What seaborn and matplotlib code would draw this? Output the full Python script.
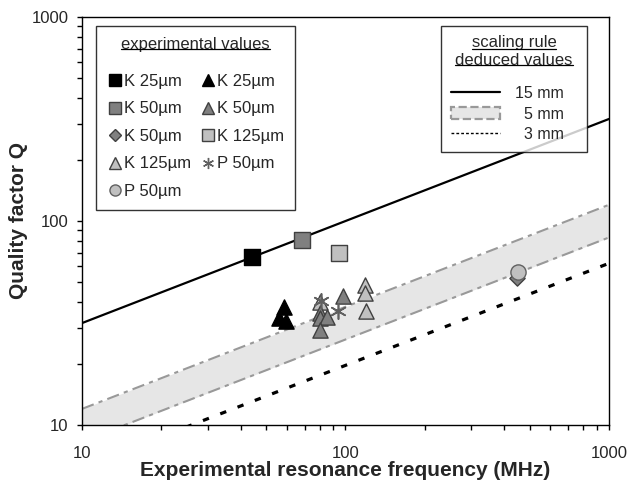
import numpy as np
import pandas as pd
import matplotlib
matplotlib.use("Agg")
import matplotlib.pyplot as plt
import seaborn as sns
from matplotlib.lines import Line2D
from matplotlib.patches import Patch

# ---------------- data ----------------
k25_sq_f = [44.3]
k25_sq_q = [66.4]
k25_tri_f = [58.6, 56.0, 59.5]
k25_tri_q = [37.8, 33.3, 32.5]
k50_sq_f = [68.5]
k50_sq_q = [80.7]
k50_tri_f = [80.0, 80.0, 85.0, 80.0, 98.0]
k50_tri_q = [35.5, 33.5, 33.8, 29.3, 43.0]
k50_dia_f = [447.0]
k50_dia_q = [52.4]
k125_sq_f = [94.6]
k125_sq_q = [69.5]
k125_tri_f = [80.0, 118.6, 118.6, 119.5]
k125_tri_q = [40.2, 48.6, 44.2, 36.2]
p50_star_f = [80.7, 94.0]
p50_star_q = [40.5, 36.2]
p50_circ_f = [453.0]
p50_circ_q = [56.4]

# scaling rule lines (straight in log-log, endpoints only)
rule_f = [10, 1000]
rule_15mm = [31.6, 316.0]
rule_5mm_hi = [12.0, 120.0]
rule_5mm_lo = [8.3, 83.0]
rule_3mm = [6.2, 62.0]

sns.set_style("ticks")
plt.rcParams['font.family'] = ['Liberation Sans', 'DejaVu Sans']

fig = plt.figure(figsize=(6.31, 4.83), dpi=100)
ax = fig.add_axes([0.130, 0.120, 0.835, 0.845])

# band and lines
ax.fill_between(rule_f, rule_5mm_lo, rule_5mm_hi, color='#e6e6e6', lw=0, zorder=1)
sns.lineplot(x=rule_f, y=rule_5mm_hi, ax=ax, color='#999999', lw=1.5, zorder=2)
sns.lineplot(x=rule_f, y=rule_5mm_lo, ax=ax, color='#999999', lw=1.5, zorder=2)
for l in ax.lines[-2:]:
    l.set_dashes((6, 2.5, 2, 2.5))
sns.lineplot(x=rule_f, y=rule_15mm, ax=ax, color='black', lw=1.6, zorder=2)
sns.lineplot(x=rule_f, y=rule_3mm, ax=ax, color='black', lw=2.3, zorder=2)
ax.lines[-1].set_dashes((2, 3.8))

groups = [
    (k25_sq_f, k25_sq_q, 's', 'black', 'black', 'K 25µm'),
    (k50_sq_f, k50_sq_q, 's', '#808080', '#404040', 'K 50µm'),
    (k50_dia_f, k50_dia_q, 'D', '#808080', '#404040', 'K 50µm'),
    (k125_tri_f, k125_tri_q, '^', '#c0c0c0', '#404040', 'K 125µm'),
    (p50_circ_f, p50_circ_q, 'o', '#c0c0c0', '#606060', 'P 50µm'),
    (k25_tri_f, k25_tri_q, '^', 'black', 'black', 'K 25µm'),
    (k50_tri_f, k50_tri_q, '^', '#808080', '#404040', 'K 50µm'),
    (k125_sq_f, k125_sq_q, 's', '#c0c0c0', '#404040', 'K 125µm'),
    (p50_star_f, p50_star_q, (6, 2, 0), '#606060', '#606060', 'P 50µm'),
]
handles = []
for f, q, m, fc, ec, lab in groups:
    size = 120 if m != 'D' else 60
    sns.scatterplot(x=f, y=q, ax=ax, marker=m, s=size, color=fc,
                    edgecolor=ec, linewidth=1.2 if m == (6, 2, 0) else 1.0,
                    zorder=3, legend=False)
    handles.append(Line2D([], [], marker=m, ls='none', markersize=8 if m != 'D' else 6,
                          markerfacecolor=fc, markeredgecolor=ec, color=ec,
                          markeredgewidth=1.0, label=lab))

ax.set_xscale('log')
ax.set_yscale('log')
ax.set_xlim(10, 1000)
ax.set_ylim(10, 1000)
ax.set_xticks([10, 100, 1000])
ax.set_xticklabels(['10', '100', '1000'])
ax.set_yticks([10, 100, 1000])
ax.set_yticklabels(['10', '100', '1000'])
ax.tick_params(axis='both', which='both', labelsize=12, length=3.6, direction='out',
               color='black', width=1.0)
ax.tick_params(axis='x', pad=11.5)
ax.tick_params(axis='y', pad=6)
for s in ax.spines.values():
    s.set_color('black')
    s.set_linewidth(1.0)
ax.set_xlabel('Experimental resonance frequency (MHz)', fontsize=15, fontweight='bold', labelpad=0)
ax.set_ylabel('Quality factor Q', fontsize=15, fontweight='bold', labelpad=3)

leg1 = ax.legend(handles=handles, ncol=2, loc='upper left', bbox_to_anchor=(0.0266, 0.978),
                 title='experimental values', title_fontsize=12,
                 fontsize=12, frameon=True, fancybox=False, edgecolor='black',
                 handletextpad=0.05, columnspacing=0.5, handlelength=1.0,
                 labelspacing=0.75, borderpad=0.65, borderaxespad=0)
leg1.get_frame().set_linewidth(1.0)
leg1._legend_box.sep = 16
ax.add_artist(leg1)

h2 = [Line2D([], [], color='black', lw=1.6, label='15 mm   '),
      Patch(facecolor='#e6e6e6', edgecolor='#999999', linestyle='--', lw=1.6, label='  5 mm   '),
      Line2D([], [], color='black', lw=1.0, dashes=(2, 1.5), label='  3 mm   ')]
leg2 = ax.legend(handles=h2, loc='upper right', bbox_to_anchor=(0.958, 0.978),
                 title='scaling rule\ndeduced values',
                 title_fontsize=12, fontsize=11.5, frameon=True, fancybox=False,
                 edgecolor='black', handlelength=3.1, handleheight=0.75, handletextpad=0.9,
                 labelspacing=0.35, borderpad=0.6, borderaxespad=0)
leg2.get_frame().set_linewidth(1.0)
leg2.get_title().set_multialignment('center')
leg2._legend_box.sep = 13


def underline(title, lines, size):
    fig.canvas.draw()
    r = fig.canvas.get_renderer()
    bb = title.get_window_extent(r)
    lh = bb.height / len(lines)
    cx = (bb.x0 + bb.x1) / 2
    inv = fig.transFigure.inverted()
    for i, s in enumerate(lines):
        t = fig.text(0, 0, s, fontsize=size)
        w = t.get_window_extent(r).width
        t.remove()
        y = bb.y1 - (i + 1) * lh + 2.5
        p0 = inv.transform((cx - w / 2, y))
        p1 = inv.transform((cx + w / 2, y))
        fig.add_artist(Line2D([p0[0], p1[0]], [p0[1], p1[1]], color='black', lw=0.9))


underline(leg1.get_title(), ['experimental values'], 12)
underline(leg2.get_title(), ['scaling rule', 'deduced values'], 12)

fig.savefig('out.png', dpi=100)
